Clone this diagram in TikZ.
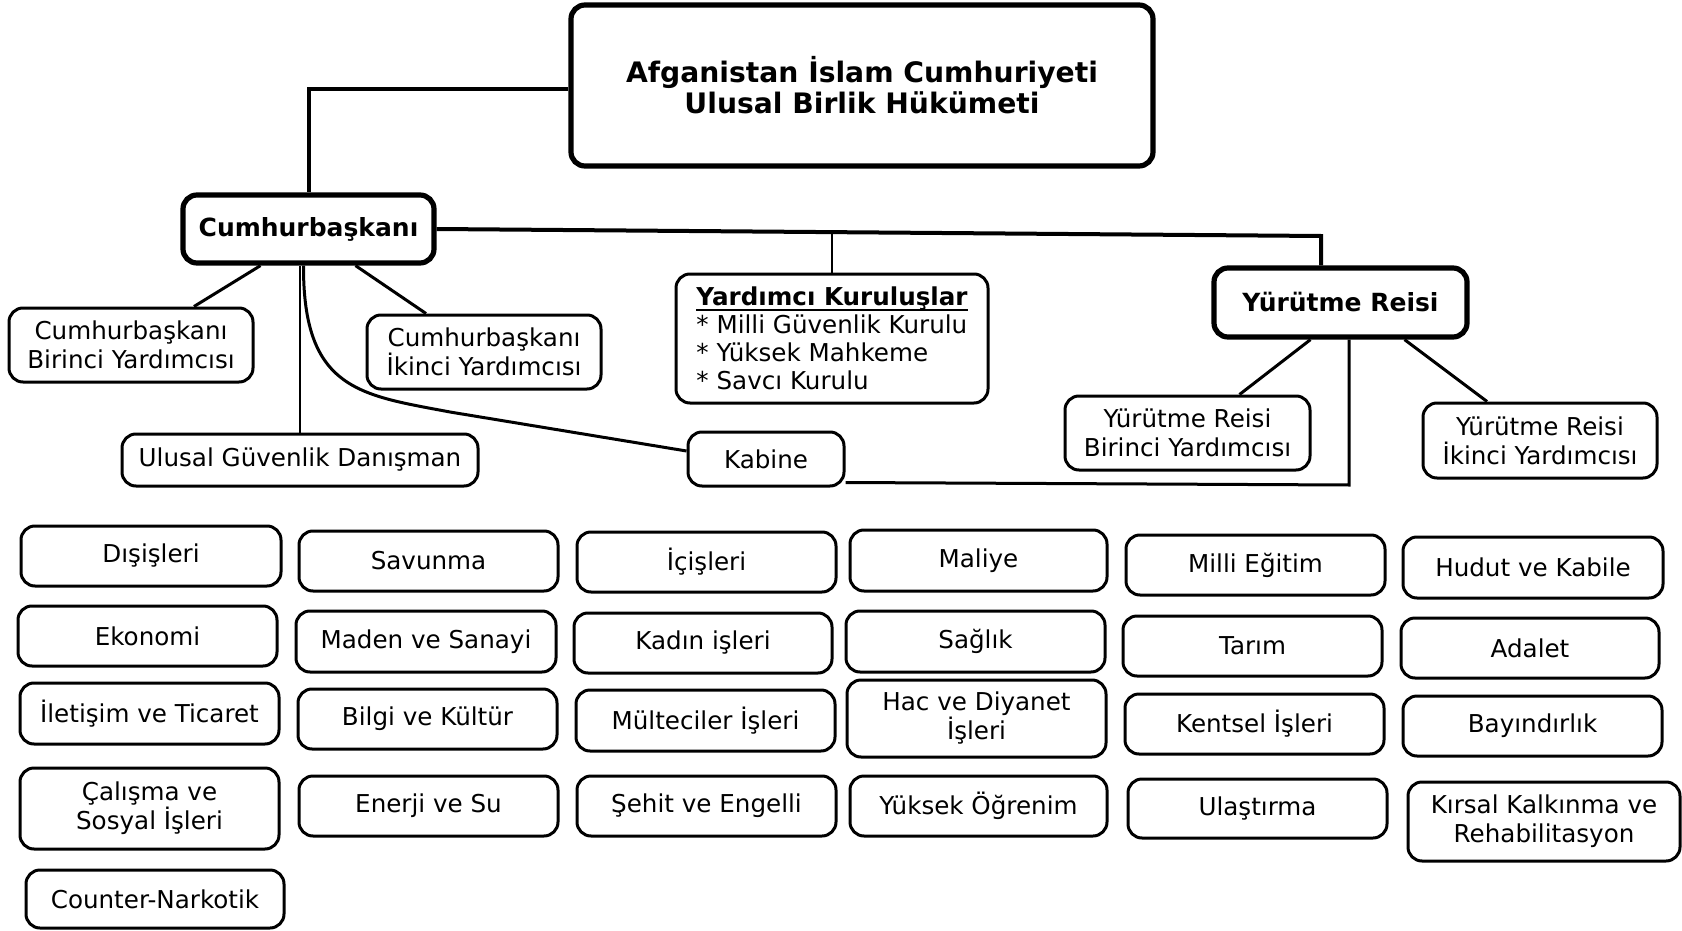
\documentclass[tikz,border=0pt]{standalone}
\usepackage{fontspec}
\setmainfont{DejaVu Sans}
\usetikzlibrary{calc}
\tikzset{
  rbox/.style={draw, rounded corners=7pt, line width=1.5pt, align=center, inner sep=0pt,
    font=\fontsize{12.3}{14.5}\selectfont},
  tbox/.style={rbox, line width=2.6pt, font=\bfseries\fontsize{12.5}{15.5}\selectfont},
  thickline/.style={line width=2pt},
  midline/.style={line width=1.5pt},
  thinline/.style={line width=1.1pt}
}
\newcommand\orgbox[7][]{%
  \node[rbox,#1,minimum width={(#5-#3)*0.5pt},minimum height={(#6-#4)*0.5pt}] (#2) at ({(#3+#5)/2},{(#4+#6)/2}) {#7};}
\newcommand\myul[1]{\setbox0\hbox{#1}\rlap{\rule[-2.4pt]{\wd0}{1.1pt}}\box0}
\begin{document}
\begin{tikzpicture}[x=0.5pt,y=-0.5pt]
\fill[white] (0,0) rectangle (1682,931);
\useasboundingbox (0,0) rectangle (1682,931);
% top levels
\orgbox[tbox,font=\bfseries\fontsize{14.1}{15.5}\selectfont]{top}{571}{5}{1153}{166}{Afganistan İslam Cumhuriyeti\\Ulusal Birlik Hükümeti}
\orgbox[tbox]{cb}{183}{195}{434}{263}{Cumhurbaşkanı}
\orgbox[tbox]{yr}{1214}{268}{1467}{337}{Yürütme Reisi}
\orgbox{b1}{9}{308}{253}{382}{Cumhurbaşkanı\\Birinci Yardımcısı}
\orgbox{b2}{367}{315}{601}{389}{Cumhurbaşkanı\\İkinci Yardımcısı}
\orgbox{ug}{122}{434}{478}{486}{Ulusal Güvenlik Danışman}
\orgbox{kab}{688}{432}{844}{486}{Kabine}
\orgbox[align=left,font=\fontsize{12.3}{13.9}\selectfont]{yk}{676}{274}{988}{403}{\myul{\textbf{Yardımcı Kuruluşlar}}\\{}* Milli Güvenlik Kurulu\\{}* Yüksek Mahkeme\\{}* Savcı Kurulu}
\orgbox{yb}{1065}{396}{1310}{470}{Yürütme Reisi\\Birinci Yardımcısı}
\orgbox{yi}{1423}{403}{1657}{478}{Yürütme Reisi\\İkinci Yardımcısı}
% ministries column 1
\orgbox{m11}{21}{526}{281}{586}{Dışişleri}
\orgbox{m12}{18}{606}{277}{666}{Ekonomi}
\orgbox{m13}{20}{683}{279}{744}{İletişim ve Ticaret}
\orgbox{m14}{20}{768}{279}{849}{Çalışma ve\\Sosyal İşleri}
\orgbox{m15}{26}{870}{284}{928}{Counter-Narkotik}
% column 2
\orgbox{m21}{299}{531}{558}{591}{Savunma}
\orgbox{m22}{296}{611}{556}{672}{Maden ve Sanayi}
\orgbox{m23}{298}{689}{557}{749}{Bilgi ve Kültür}
\orgbox{m24}{299}{776}{558}{836}{Enerji ve Su}
% column 3
\orgbox{m31}{577}{532}{836}{592}{İçişleri}
\orgbox{m32}{574}{613}{832}{673}{Kadın işleri}
\orgbox{m33}{576}{690}{835}{751}{Mülteciler İşleri}
\orgbox{m34}{577}{776}{836}{836}{Şehit ve Engelli}
% column 4
\orgbox{m41}{850}{530}{1107}{591}{Maliye}
\orgbox{m42}{846}{611}{1105}{672}{Sağlık}
\orgbox{m43}{847}{680}{1106}{757}{Hac ve Diyanet\\İşleri}
\orgbox{m44}{850}{776}{1107}{836}{Yüksek Öğrenim}
% column 5
\orgbox{m51}{1126}{535}{1385}{595}{Milli Eğitim}
\orgbox{m52}{1123}{616}{1382}{676}{Tarım}
\orgbox{m53}{1125}{694}{1384}{754}{Kentsel İşleri}
\orgbox{m54}{1128}{779}{1387}{838}{Ulaştırma}
% column 6
\orgbox{m61}{1403}{537}{1663}{598}{Hudut ve Kabile}
\orgbox{m62}{1401}{618}{1659}{678}{Adalet}
\orgbox{m63}{1403}{696}{1662}{756}{Bayındırlık}
\orgbox{m64}{1408}{782}{1680}{861}{Kırsal Kalkınma ve\\Rehabilitasyon}
% connectors
\draw[thickline] ($(top.west)+(0,3.5)$) -| (cb.north);
\coordinate (yc) at (1321,236);
\draw[thickline] (cb.east) -- (yc) -- (yc |- yr.north);
\draw[thinline] (yk.north) -- ++(0,-42);
\draw[midline] ($(cb.south)+(-48,0)$) -- ($(b1.north)+(63,0)$);
\draw[midline] ($(cb.south)+(47,0)$) -- ($(b2.north)+(-58,0)$);
\draw[thinline] (ug.north) -- (ug.north |- cb.south);
\draw[midline] ($(cb.south)+(-5,0)$) .. controls (303,390) and (360,395) .. (450,412) -- ($(kab.west)+(0,-8)$);
\coordinate (kc) at (1349,485);
\draw[midline] ($(kab.south east)+(0,-5)$) -- (kc) -- (kc |- yr.south);
\draw[midline] ($(yr.south)+(-30,0)$) -- ($(yb.north)+(52,0)$);
\draw[midline] ($(yr.south)+(64,0)$) -- ($(yi.north)+(-53,0)$);
\end{tikzpicture}
\end{document}
